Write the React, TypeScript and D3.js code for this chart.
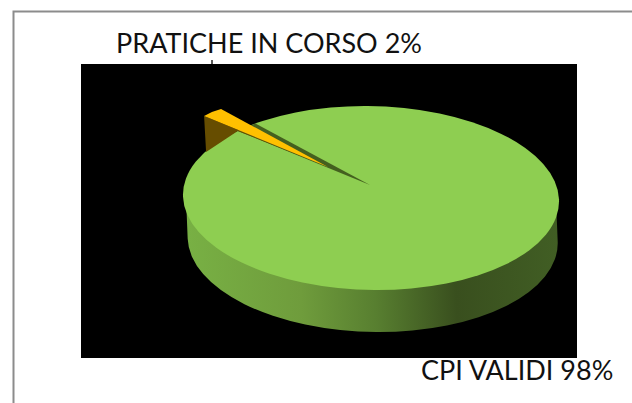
import React from "react";
import * as d3 from "d3";

const categories = ["PRATICHE IN CORSO", "CPI VALIDI"];
const values = [2, 98];
const topColors = ["#ffc000", "#8ece51"];

const W = 632, H = 403;
const deg = Math.PI / 180;
// pie projection: a unit circle flattened and slightly sheared onto the tilted plane
const rx = 188, ry = 92, cx = 371, cy = 198;
const shearX = 0.04, shearY = 0.007;
const sx = d3.scaleLinear().domain([-1, 1]).range([-rx, rx]);
const sy = d3.scaleLinear().domain([-1, 1]).range([-ry, ry]);
const depth = 42;
const explodeDx = -39, explodeDy = -17.6, explodeR = 0.96;

const arcs = d3.pie<number>().sort(null).startAngle(-44 * deg).endAngle(316 * deg)(values);
const rim = (a: number, k = 1, dx = 0, dy = 0): [number, number] => {
  const x = sx(k * Math.sin(a));
  const y = sy(-k * Math.cos(a));
  return [cx + x + shearX * y + dx, cy + y + shearY * x + dy];
};
const line = d3.line();

const orange = arcs[0];
const apexGreen: [number, number] = [370, 185];
const apexOrange: [number, number] = [328, 167];
const outA = rim(orange.startAngle, explodeR, explodeDx, explodeDy);
const outB = rim(orange.endAngle, explodeR, explodeDx, explodeDy);
const outMid = rim((orange.startAngle + orange.endAngle) / 2 - 0.6 * deg, explodeR, explodeDx + 1, explodeDy - 1);
const notchA = rim(orange.startAngle);
const notchB = rim(orange.endAngle);
const wallBottom: [number, number] = [outA[0] + 2, outA[1] + 36];

const bodyPath = `M${-rx + 3},0 L${-rx + 3},${depth} A${rx - 3},${ry} 0 0 0 ${rx - 3},${depth} L${rx - 3},0 Z`;

const sideStops: [number, string][] = [
  [0, "#78b044"],
  [0.3, "#6f9c3c"],
  [0.5, "#587f30"],
  [0.72, "#394f1e"],
  [1, "#415e24"],
];

export default function App() {
  const tf = `translate(${cx},${cy}) matrix(1,${shearY},${shearX},1,0,0)`;
  return (
    <svg width={W} height={H} style={{ position: "absolute", left: 0, top: 0, background: "#fff" }} fontFamily="Lato">
      <defs>
        <linearGradient id="side" x1="0" x2="1" y1="0" y2="0">
          {sideStops.map(([o, c]) => (
            <stop key={o} offset={o} stopColor={c} />
          ))}
        </linearGradient>
      </defs>
      <path d="M13.5,403 L13.5,11.5 L632,11.5" fill="none" stroke="#8c8c8c" strokeWidth={2} />
      <rect x={81} y={64} width={496} height={294} fill="#000" />
      <line x1={212} x2={212} y1={60} y2={64} stroke="#222" strokeWidth={1.5} />
      <g transform={tf}>
        <path d={bodyPath} fill="url(#side)" />
        <ellipse cx={0} cy={0} rx={rx} ry={ry} fill={topColors[1]} />
      </g>
      <path d={line([apexGreen, notchB, notchA])!} fill="#44601f" />
      <path d={line([apexOrange, notchA, wallBottom, outA])!} fill="#664d00" />
      <path d={line([apexOrange, outA, outMid, outB])!} fill={topColors[0]} />
      <text x={116} y={53} fontSize={27} fill="#111">
        {categories[0]} {values[0]}%
      </text>
      <text x={421} y={380} fontSize={27} fill="#111">
        {categories[1]} {values[1]}%
      </text>
    </svg>
  );
}
